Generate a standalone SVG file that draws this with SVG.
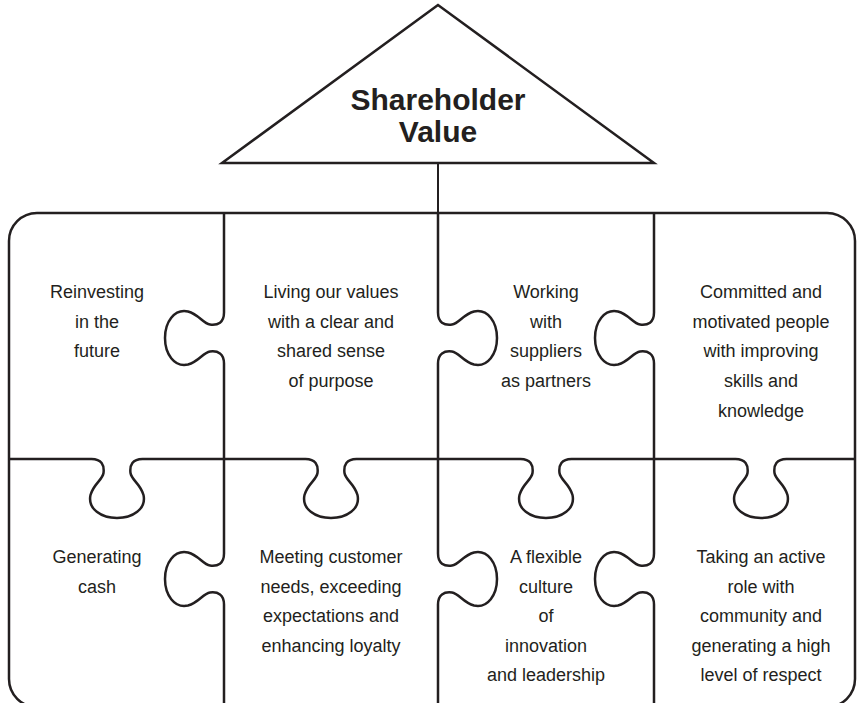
<svg xmlns="http://www.w3.org/2000/svg" width="858" height="703" viewBox="0 0 858 703">
<style>
.ln{fill:none;stroke:#231f20;stroke-width:2.5;stroke-linejoin:round}
.tri{fill:#fff;stroke:#231f20;stroke-width:2.5;stroke-linejoin:miter}
.con{fill:none;stroke:#231f20;stroke-width:2}
.t{font-family:"Liberation Sans",Arial,sans-serif;font-size:18px;fill:#231f20;text-anchor:middle}
.h{font-family:"Liberation Sans",Arial,sans-serif;font-size:30px;font-weight:bold;fill:#231f20;text-anchor:middle}
</style>
<rect width="858" height="703" fill="#fff"/>
<g id="connectors">
<line class="con" x1="438" y1="163" x2="438" y2="213"/>
</g>
<g id="shareholder-value">
<polygon class="tri" points="438,5 222,163 654,163"/>
<text class="h" x="438" y="110">Shareholder</text>
<text class="h" x="438" y="142">Value</text>
</g>
<g id="puzzle">
<rect class="ln" x="9" y="213" width="846" height="494" rx="28"/>
<path class="ln" d="M224,213 V312.5 c0,10 -6,13 -14,12 c-7,-1 -11,-10 -22,-13 c-14,-3 -23,11 -23,26.5 c0,15.5 9,29.5 23,26.5 c11,-3 15,-12 22,-13 c8,-1 14,2 14,12 V553.5 c0,10 -6,13 -14,12 c-7,-1 -11,-10 -22,-13 c-14,-3 -23,11 -23,26.5 c0,15.5 9,29.5 23,26.5 c11,-3 15,-12 22,-13 c8,-1 14,2 14,12 V706"/>
<path class="ln" d="M438,213 V312.5 c0,10 6,13 14,12 c7,-1 11,-10 22,-13 c14,-3 23,11 23,26.5 c0,15.5 -9,29.5 -23,26.5 c-11,-3 -15,-12 -22,-13 c-8,-1 -14,2 -14,12 V553.5 c0,10 6,13 14,12 c7,-1 11,-10 22,-13 c14,-3 23,11 23,26.5 c0,15.5 -9,29.5 -23,26.5 c-11,-3 -15,-12 -22,-13 c-8,-1 -14,2 -14,12 V706"/>
<path class="ln" d="M654,213 V312.5 c0,10 -6,13 -14,12 c-7,-1 -11,-10 -22,-13 c-14,-3 -23,11 -23,26.5 c0,15.5 9,29.5 23,26.5 c11,-3 15,-12 22,-13 c8,-1 14,2 14,12 V553.5 c0,10 -6,13 -14,12 c-7,-1 -11,-10 -22,-13 c-14,-3 -23,11 -23,26.5 c0,15.5 9,29.5 23,26.5 c11,-3 15,-12 22,-13 c8,-1 14,2 14,12 V706"/>
<path class="ln" d="M9,459 H91.5 c10,0 13,6 12,14 c-1,7 -10,11 -13,22 c-3,14 11,23 26.5,23 c15.5,0 29.5,-9 26.5,-23 c-3,-11 -12,-15 -13,-22 c-1,-8 2,-14 12,-14 H305.5 c10,0 13,6 12,14 c-1,7 -10,11 -13,22 c-3,14 11,23 26.5,23 c15.5,0 29.5,-9 26.5,-23 c-3,-11 -12,-15 -13,-22 c-1,-8 2,-14 12,-14 H520.5 c10,0 13,6 12,14 c-1,7 -10,11 -13,22 c-3,14 11,23 26.5,23 c15.5,0 29.5,-9 26.5,-23 c-3,-11 -12,-15 -13,-22 c-1,-8 2,-14 12,-14 H735.5 c10,0 13,6 12,14 c-1,7 -10,11 -13,22 c-3,14 11,23 26.5,23 c15.5,0 29.5,-9 26.5,-23 c-3,-11 -12,-15 -13,-22 c-1,-8 2,-14 12,-14 H855"/>
</g>
<g id="reinvesting">
<text class="t" x="97" y="298">Reinvesting</text>
<text class="t" x="97" y="328">in the</text>
<text class="t" x="97" y="357">future</text>
</g>
<g id="living-values">
<text class="t" x="331" y="298">Living our values</text>
<text class="t" x="331" y="328">with a clear and</text>
<text class="t" x="331" y="357">shared sense</text>
<text class="t" x="331" y="387">of purpose</text>
</g>
<g id="suppliers">
<text class="t" x="546" y="298">Working</text>
<text class="t" x="546" y="328">with</text>
<text class="t" x="546" y="357">suppliers</text>
<text class="t" x="546" y="387">as partners</text>
</g>
<g id="people">
<text class="t" x="761" y="298">Committed and</text>
<text class="t" x="761" y="328">motivated people</text>
<text class="t" x="761" y="357">with improving</text>
<text class="t" x="761" y="387">skills and</text>
<text class="t" x="761" y="417">knowledge</text>
</g>
<g id="cash">
<text class="t" x="97" y="563">Generating</text>
<text class="t" x="97" y="593">cash</text>
</g>
<g id="customer">
<text class="t" x="331" y="563">Meeting customer</text>
<text class="t" x="331" y="593">needs, exceeding</text>
<text class="t" x="331" y="622">expectations and</text>
<text class="t" x="331" y="652">enhancing loyalty</text>
</g>
<g id="culture">
<text class="t" x="546" y="563">A flexible</text>
<text class="t" x="546" y="593">culture</text>
<text class="t" x="546" y="622">of</text>
<text class="t" x="546" y="652">innovation</text>
<text class="t" x="546" y="681">and leadership</text>
</g>
<g id="community">
<text class="t" x="761" y="563">Taking an active</text>
<text class="t" x="761" y="593">role with</text>
<text class="t" x="761" y="622">community and</text>
<text class="t" x="761" y="652">generating a high</text>
<text class="t" x="761" y="681">level of respect</text>
</g>
</svg>
